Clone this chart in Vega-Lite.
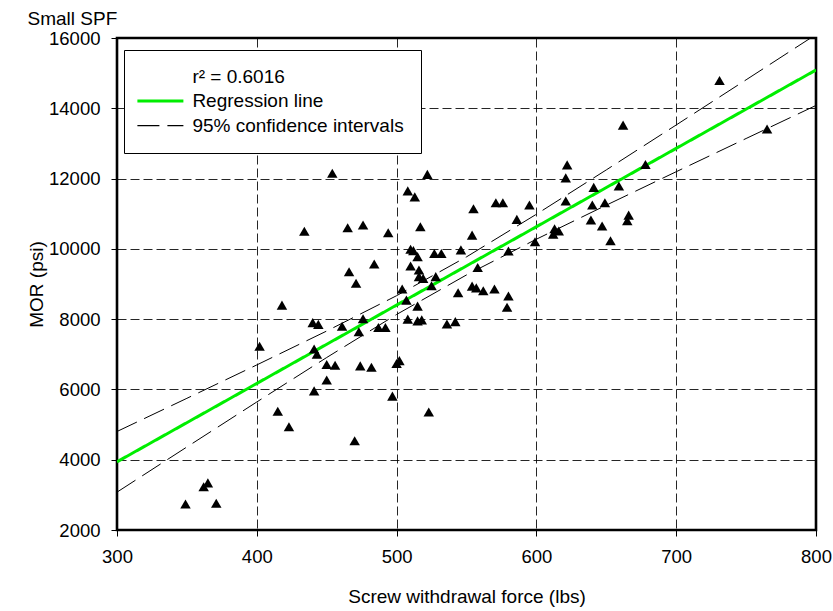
{
  "$schema": "https://vega.github.io/schema/vega-lite/v6.json",
  "width": 699,
  "height": 492,
  "autosize": {"type": "none"},
  "padding": {"left": 117, "top": 38, "right": 17, "bottom": 81},
  "background": "white",
  "title": {"text": "Small SPF", "anchor": "start", "fontSize": 19, "fontWeight": "normal", "font": "Liberation Sans", "offset": 0, "color": "black"},
  "config": {
    "view": {"stroke": "black", "strokeWidth": 2.6},
    "font": "Liberation Sans",
    "axis": {
      "labelFont": "Liberation Sans", "labelFontSize": 18.5, "labelColor": "black",
      "titleFont": "Liberation Sans", "titleFontSize": 19, "titleFontWeight": "normal", "titleColor": "black",
      "tickColor": "black", "tickSize": 6, "tickWidth": 1, "domain": false,
      "grid": true, "gridColor": "black", "gridDash": [9, 4], "gridWidth": 1, "gridOpacity": 0.85,
      "labelPadding": 11, "labelFlush": false
    }
  },
  "datasets": {
    "points": [
      {"force": 454, "mor": 12150}, {"force": 522, "mor": 12120}, {"force": 508, "mor": 11650}, {"force": 513, "mor": 11480},
      {"force": 622, "mor": 12390}, {"force": 621, "mor": 12020}, {"force": 621, "mor": 11360}, {"force": 555, "mor": 11140},
      {"force": 571, "mor": 11310}, {"force": 576, "mor": 11310}, {"force": 595, "mor": 11250}, {"force": 586, "mor": 10840},
      {"force": 465, "mor": 10600}, {"force": 476, "mor": 10680}, {"force": 494, "mor": 10460}, {"force": 517, "mor": 10630},
      {"force": 554, "mor": 10390}, {"force": 613, "mor": 10570}, {"force": 612, "mor": 10420}, {"force": 616, "mor": 10510},
      {"force": 599, "mor": 10200}, {"force": 510, "mor": 9990}, {"force": 512, "mor": 9950}, {"force": 515, "mor": 9780},
      {"force": 527, "mor": 9870}, {"force": 532, "mor": 9870}, {"force": 546, "mor": 9970}, {"force": 580, "mor": 9940},
      {"force": 484, "mor": 9570}, {"force": 466, "mor": 9350}, {"force": 510, "mor": 9510}, {"force": 516, "mor": 9400},
      {"force": 558, "mor": 9470}, {"force": 528, "mor": 9210}, {"force": 516, "mor": 9210}, {"force": 519, "mor": 9160},
      {"force": 471, "mor": 9020}, {"force": 504, "mor": 8860}, {"force": 525, "mor": 8950}, {"force": 507, "mor": 8540},
      {"force": 515, "mor": 8370}, {"force": 554, "mor": 8940}, {"force": 557, "mor": 8890}, {"force": 562, "mor": 8810},
      {"force": 570, "mor": 8860}, {"force": 580, "mor": 8660}, {"force": 579, "mor": 8340}, {"force": 544, "mor": 8750},
      {"force": 476, "mor": 8010}, {"force": 461, "mor": 7800}, {"force": 473, "mor": 7640}, {"force": 487, "mor": 7760},
      {"force": 492, "mor": 7760}, {"force": 508, "mor": 8000}, {"force": 515, "mor": 7950}, {"force": 518, "mor": 7980},
      {"force": 536, "mor": 7860}, {"force": 542, "mor": 7930}, {"force": 450, "mor": 6710}, {"force": 456, "mor": 6690},
      {"force": 474, "mor": 6670}, {"force": 482, "mor": 6630}, {"force": 500, "mor": 6740}, {"force": 502, "mor": 6820},
      {"force": 497, "mor": 5810}, {"force": 523, "mor": 5360}, {"force": 470, "mor": 4540}, {"force": 450, "mor": 6270},
      {"force": 441, "mor": 5960}, {"force": 415, "mor": 5380}, {"force": 423, "mor": 4940}, {"force": 365, "mor": 3340},
      {"force": 362, "mor": 3230}, {"force": 349, "mor": 2740}, {"force": 371, "mor": 2760}, {"force": 731, "mor": 14790},
      {"force": 662, "mor": 13520}, {"force": 765, "mor": 13410}, {"force": 678, "mor": 12400}, {"force": 641, "mor": 11750},
      {"force": 659, "mor": 11790}, {"force": 640, "mor": 11250}, {"force": 649, "mor": 11310}, {"force": 639, "mor": 10820},
      {"force": 647, "mor": 10650}, {"force": 666, "mor": 10960}, {"force": 665, "mor": 10800}, {"force": 653, "mor": 10230},
      {"force": 434, "mor": 10500}, {"force": 418, "mor": 8400}, {"force": 402, "mor": 7230}, {"force": 440, "mor": 7900},
      {"force": 444, "mor": 7850}, {"force": 441, "mor": 7150}, {"force": 443, "mor": 7000}
    ],
    "lines": [
      {"force": 300, "mor": 3940, "series": "Regression line", "line": "fit"},
      {"force": 800, "mor": 15090, "series": "Regression line", "line": "fit"},
      {"force": 300, "mor": 4803, "series": "95% confidence intervals", "line": "upper"},
      {"force": 350, "mor": 5747, "series": "95% confidence intervals", "line": "upper"},
      {"force": 400, "mor": 6697, "series": "95% confidence intervals", "line": "upper"},
      {"force": 450, "mor": 7662, "series": "95% confidence intervals", "line": "upper"},
      {"force": 500, "mor": 8667, "series": "95% confidence intervals", "line": "upper"},
      {"force": 550, "mor": 9772, "series": "95% confidence intervals", "line": "upper"},
      {"force": 600, "mor": 10985, "series": "95% confidence intervals", "line": "upper"},
      {"force": 650, "mor": 12247, "series": "95% confidence intervals", "line": "upper"},
      {"force": 700, "mor": 13525, "series": "95% confidence intervals", "line": "upper"},
      {"force": 750, "mor": 14810, "series": "95% confidence intervals", "line": "upper"},
      {"force": 800, "mor": 16099, "series": "95% confidence intervals", "line": "upper"},
      {"force": 300, "mor": 3077, "series": "95% confidence intervals", "line": "lower"},
      {"force": 350, "mor": 4363, "series": "95% confidence intervals", "line": "lower"},
      {"force": 400, "mor": 5643, "series": "95% confidence intervals", "line": "lower"},
      {"force": 450, "mor": 6908, "series": "95% confidence intervals", "line": "lower"},
      {"force": 500, "mor": 8133, "series": "95% confidence intervals", "line": "lower"},
      {"force": 550, "mor": 9258, "series": "95% confidence intervals", "line": "lower"},
      {"force": 600, "mor": 10275, "series": "95% confidence intervals", "line": "lower"},
      {"force": 650, "mor": 11243, "series": "95% confidence intervals", "line": "lower"},
      {"force": 700, "mor": 12195, "series": "95% confidence intervals", "line": "lower"},
      {"force": 750, "mor": 13140, "series": "95% confidence intervals", "line": "lower"},
      {"force": 800, "mor": 14081, "series": "95% confidence intervals", "line": "lower"}
    ]
  },
  "encoding": {
    "x": {"field": "force", "type": "quantitative",
      "scale": {"domain": [300, 800], "nice": false, "zero": false},
      "axis": {"values": [300, 400, 500, 600, 700, 800], "title": "Screw withdrawal force (lbs)", "titlePadding": 22}},
    "y": {"field": "mor", "type": "quantitative",
      "scale": {"domain": [2000, 16000], "nice": false, "zero": false},
      "axis": {"values": [2000, 4000, 6000, 8000, 10000, 12000, 14000, 16000], "title": "MOR (psi)", "titlePadding": 2, "format": "d"}}
  },
  "layer": [
    {
      "data": {"name": "lines"},
      "mark": {"type": "line", "clip": true},
      "encoding": {
        "color": {"field": "series", "type": "nominal",
          "scale": {"domain": ["r² = 0.6016", "Regression line", "95% confidence intervals"], "range": ["rgba(0,0,0,0)", "#00ee00", "black"]},
          "legend": {
            "title": null, "orient": "none", "legendX": 7, "legendY": 12,
            "fillColor": "white", "strokeColor": "black", "padding": 17,
            "symbolType": "M-1.048,0H2.632", "symbolSize": 625, "symbolStrokeWidth": 2,
            "labelFont": "Liberation Sans", "labelFontSize": 19, "labelColor": "black", "labelOffset": 32.4, "rowPadding": 4.6, "labelLimit": 400,
            "encode": {"symbols": {"update": {"strokeWidth": {"signal": "datum.label === 'Regression line' ? 3 : 1.3"}}}}
          }},
        "strokeDash": {"field": "series", "type": "nominal",
          "scale": {"domain": ["r² = 0.6016", "Regression line", "95% confidence intervals"], "range": [[1, 0], [1, 0], [22, 8]]}},
        "detail": {"field": "line", "type": "nominal"},
        "strokeWidth": {"condition": {"test": "datum.series === 'Regression line'", "value": 3}, "value": 1}
      }
    },
    {
      "data": {"name": "points"},
      "mark": {"type": "point", "shape": "triangle-up", "filled": true, "color": "black", "size": 110, "opacity": 1}
    }
  ]
}
